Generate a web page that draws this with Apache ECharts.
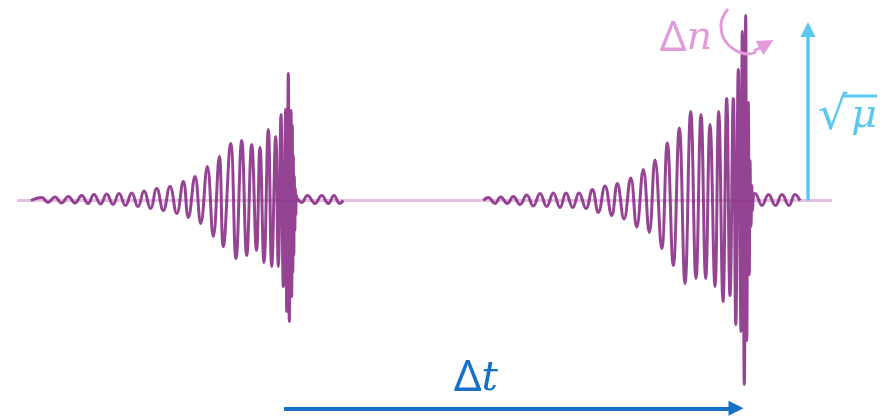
<!DOCTYPE html>
<html>
<head>
<meta charset="utf-8">
<script src="https://cdn.jsdelivr.net/npm/echarts@6/dist/echarts.min.js"></script>
<style>
html,body{margin:0;padding:0;background:#fff;}
#c{width:891px;height:417px;}
</style>
</head>
<body>
<div id="c"></div>
<script>
// ---- data (x in px-like time units, y = strain amplitude, baseline 0) ----
const chirp1X = [31,41.7,48,55,61.5,68.3,75,81.7,88,94,100.5,106.7,113,119,125.5,131.7,138,144,150.5,156.7,163.3,170,176.7,183.3,188.3,195,200.7,207.3,213.3,219.3,223.3,230.7,236,241.7,246.7,251.7,256.5,260,264,268.3,271.7,275.7,278.3,281,283.3,285.7,286.7,288.3,289.3,291,291.7,292.3,292.8,293.3,293.8,294.3,294.8,295.3,295.8,296.5,297.3,301.7,307.5,315,321.7,328.3,334,339.5,343.3];
const chirp1Y = [0,3,-2,3.5,-2.5,4,-2.5,5,-3,6,-3.5,6.5,-4,7,-5,7.5,-6,9.5,-8,12,-10,14,-13,19,-17,24,-23,34,-36,44,-46,57,-58,60,-55,56,-50,53,-62,71,-66,64,-66,86,-86,91,-111,127,-121,90,-96,75,-72,45,-55,24,-30,12,-14,5,2,-2,5,-3,5,-3,5,-3,0];
const chirp2X = [483.3,488.3,495,500.7,507.3,513.3,520,526.7,533.3,540,546.7,553.3,560,566,572.7,579,586,592.3,598.3,605,611.7,617.3,624,630.7,636.7,643.3,649.3,655,661.7,667.3,673.3,679.3,685,690.7,696,701,705.7,710,715,718.7,723,726.7,730,733.3,735.8,738.3,741,742.3,744.3,745.7,746.7,748.3,749.3,750,751,751.8,752.5,753.5,755,762,768.5,775.5,782,789,795,800];
const chirp2Y = [0,3,-3,3.5,-3,4,-4,5.5,-5.5,7,-6,7.5,-7,7.5,-7,7.5,-8,11,-12,14.5,-15,17,-18.5,22.5,-26.5,31,-32,40.5,-48,57.5,-65,72.5,-83,89,-78,86,-78,76,-86,89,-101,102,-95,102,-124,131,-131,169,-184,185,-140,98,-74,40,-26,15,-10,5,7,-5,6,-5,6,-5,6,0];
const baselineX = [17, 832];
const baselineY = [0, 0];
// annotation arrows (last point = arrowhead centre)
const dtArrowX = [284, 736];
const dtArrowY = [-207.8, -207.8];
const muArrowX = [808, 808];
const muArrowY = [0, 171];
const dnArcX = [728, 723.5, 721, 722, 726, 732, 740, 748, 756];
const dnArcY = [191.5, 184.5, 175.5, 166.5, 158.5, 152.5, 148, 146.5, 148.5];
const dnHeadX = [754, 766.5];
const dnHeadY = [149.5, 156.5];
// labels
const labelDt = 'Δt';
const labelDn = 'Δn';
const labelMu = 'μ';

const pairs = (xs, ys) => xs.map((x, i) => [x, ys[i]]);

const chart = echarts.init(document.getElementById('c'), null, {renderer: 'canvas'});
const purple = '#8a2f87';
const arrowSeries = (xs, ys, color, width, size) => ({
  type: 'lines', coordinateSystem: 'cartesian2d', silent: true,
  symbol: ['none', 'triangle'], symbolSize: size,
  lineStyle: {color: color, width: width, opacity: 1, curveness: 0},
  data: [{coords: pairs(xs, ys)}], z: 3
});
chart.setOption({
  animation: false,
  backgroundColor: '#ffffff',
  grid: {left: 0, right: 0, top: 0, bottom: 0},
  xAxis: {type: 'value', min: 0, max: 891, show: false},
  yAxis: {type: 'value', min: -216.5, max: 200.5, show: false},
  series: [
    {
      type: 'line', data: pairs(baselineX, baselineY), showSymbol: false, silent: true,
      lineStyle: {color: '#e4c0e1', width: 3}, z: 1
    },
    {
      type: 'line', data: pairs(chirp1X, chirp1Y), showSymbol: false, silent: true,
      smooth: 0.45, lineStyle: {color: purple, width: 3, opacity: 0.9}, z: 2
    },
    {
      type: 'line', data: pairs(chirp2X, chirp2Y), showSymbol: false, silent: true,
      smooth: 0.45, lineStyle: {color: purple, width: 3, opacity: 0.9}, z: 2
    },
    arrowSeries(dtArrowX, dtArrowY, '#1670c4', 4, [15, 15]),
    arrowSeries(muArrowX, muArrowY, '#5bc8f0', 3.5, [15, 15]),
    {
      type: 'line', data: pairs(dnArcX, dnArcY), showSymbol: false, silent: true,
      smooth: 0.5, lineStyle: {color: '#e29bd9', width: 3}, z: 3
    },
    arrowSeries(dnHeadX, dnHeadY, '#e29bd9', 3, [19, 16])
  ],
  graphic: [
    {
      type: 'text', x: 476, y: 379, z: 10,
      style: {
        text: '{a|' + labelDt[0] + '}{b|' + labelDt[1] + '}',
        align: 'center', verticalAlign: 'middle',
        rich: {
          a: {fontFamily: 'Noto Sans', fontSize: 43, fill: '#1670c4', color: '#1670c4'},
          b: {fontFamily: 'DejaVu Serif', fontStyle: 'italic', fontSize: 41, fill: '#1670c4', color: '#1670c4'}
        }
      }
    },
    {
      type: 'text', x: 686, y: 39, z: 10,
      style: {
        text: '{a|' + labelDn[0] + '}{b|' + labelDn[1] + '}',
        align: 'center', verticalAlign: 'middle',
        rich: {
          a: {fontFamily: 'Noto Sans', fontSize: 42, fill: '#e29bd9', color: '#e29bd9'},
          b: {fontFamily: 'DejaVu Serif', fontStyle: 'italic', fontSize: 40, fill: '#e29bd9', color: '#e29bd9'}
        }
      }
    },
    {
      type: 'text', x: 818, y: 140, z: 10,
      style: {
        text: '√', fill: '#5bc8f0', fontFamily: 'DejaVu Sans', fontSize: 46,
        align: 'left', verticalAlign: 'bottom'
      }
    },
    {
      type: 'text', x: 864, y: 137, z: 10,
      style: {
        text: labelMu, fill: '#5bc8f0', fontFamily: 'DejaVu Serif', fontStyle: 'italic', fontSize: 40,
        align: 'center', verticalAlign: 'bottom'
      }
    },
    {
      type: 'line', z: 10,
      shape: {x1: 843, y1: 96, x2: 877, y2: 96},
      style: {stroke: '#5bc8f0', lineWidth: 3}
    }
  ]
});
</script>
</body>
</html>
